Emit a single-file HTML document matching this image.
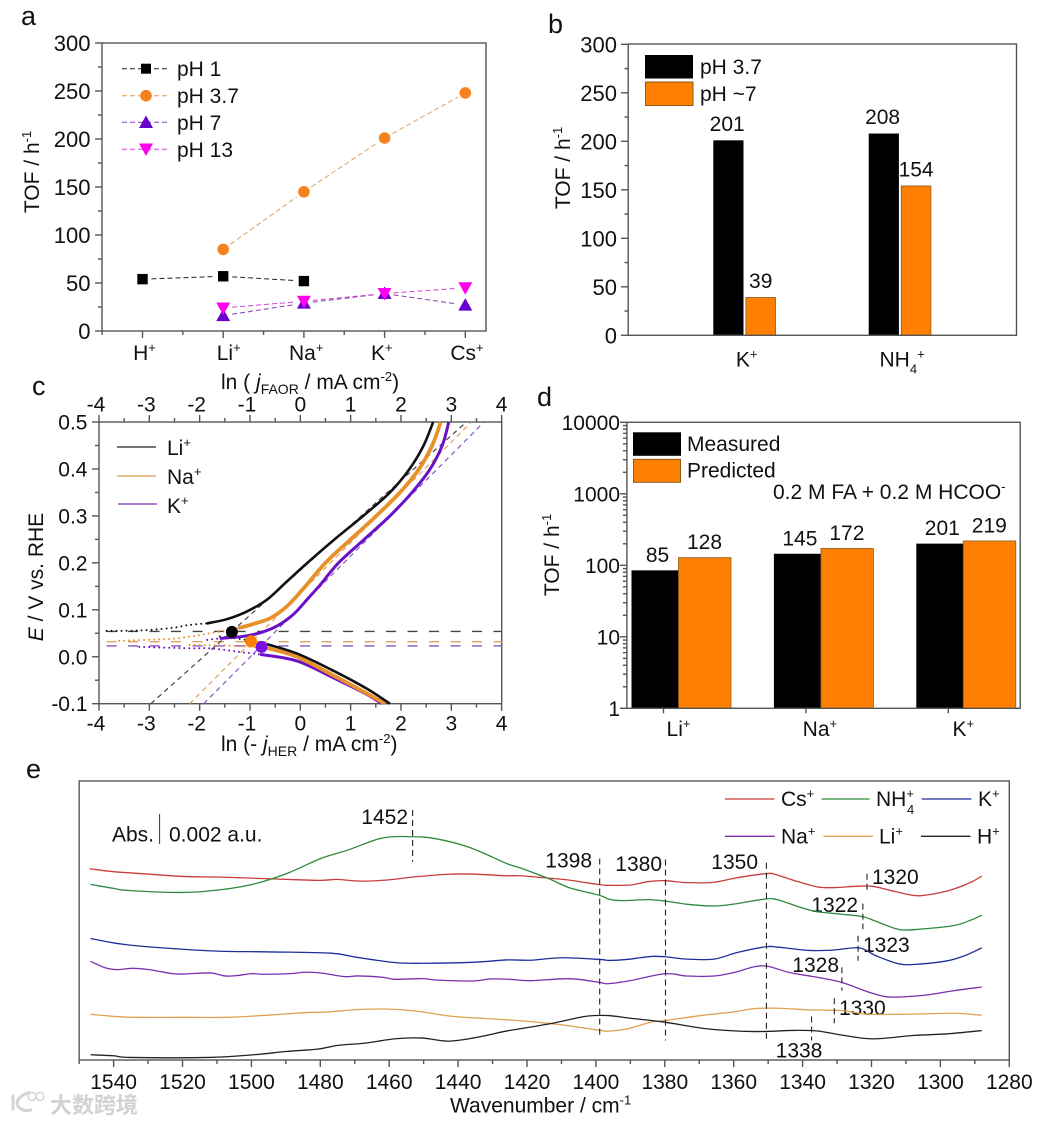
<!DOCTYPE html>
<html lang="en">
<head>
<meta charset="utf-8">
<title>Formic acid oxidation TOF, Tafel and IR spectra figure</title>
<style>
html,body{margin:0;padding:0;background:#fff;}
svg{display:block;font-family:"Liberation Sans","Noto Sans CJK SC",sans-serif;fill:#111;}
text{font-size:21px;}
.letter{font-size:27px;}
</style>
</head>
<body>
<svg id="chart" xmlns="http://www.w3.org/2000/svg" width="1047" height="1123" viewBox="0 0 1047 1123">
  <rect width="1047" height="1123" fill="#fff"/>

  <!-- panel letters -->
  <text class="letter" x="21" y="25">a</text>
  <text class="letter" x="548" y="33">b</text>
  <text class="letter" x="32" y="395">c</text>
  <text class="letter" x="537" y="406">d</text>
  <text class="letter" x="26" y="778">e</text>

  <!-- axis titles -->
  <text transform="translate(39,172) rotate(-90)" text-anchor="middle">TOF / h<tspan font-size="13" dy="-8">-1</tspan></text>
  <text transform="translate(570,168) rotate(-90)" text-anchor="middle">TOF / h<tspan font-size="13" dy="-8">-1</tspan></text>
  <text transform="translate(43,577) rotate(-90)" text-anchor="middle"><tspan font-style="italic">E</tspan> / V vs. RHE</text>
  <text transform="translate(559,555) rotate(-90)" text-anchor="middle">TOF / h<tspan font-size="13" dy="-8">-1</tspan></text>
  <text x="221" y="389">ln ( <tspan font-style="italic">j</tspan><tspan font-size="14" dy="5">FAOR</tspan><tspan dy="-5"> / mA cm</tspan><tspan font-size="13" dy="-8">-2</tspan><tspan dy="8">)</tspan></text>
  <text x="221" y="751">ln (- <tspan font-style="italic">j</tspan><tspan font-size="14" dy="5">HER</tspan><tspan dy="-5"> / mA cm</tspan><tspan font-size="13" dy="-8">-2</tspan><tspan dy="8">)</tspan></text>
  <text x="450" y="1112.5">Wavenumber / cm<tspan font-size="13" dy="-8">-1</tspan></text>

  <!-- panel a legend -->
  <g fill="none" stroke-width="1" stroke-dasharray="5 3">
    <path d="M122 68.7H169" stroke="#222"/>
    <path d="M122 95.7H169" stroke="#e0a060"/>
    <path d="M122 122.3H169" stroke="#8040b0"/>
    <path d="M122 149.3H169" stroke="#d040d0"/>
  </g>
  <rect x="141" y="63.7" width="10" height="10" fill="#000"/>
  <circle cx="146" cy="95.7" r="5.8" fill="#f5821f"/>
  <polygon points="146,115.5 153,128 139,128" fill="#6600cc"/>
  <polygon points="146,156 153,143.5 139,143.5" fill="#ff00ee"/>
  <text x="177" y="76">pH 1</text>
  <text x="177" y="103">pH 3.7</text>
  <text x="177" y="130">pH 7</text>
  <text x="177" y="157">pH 13</text>

  <!-- panel b legend -->
  <rect x="645" y="55" width="48" height="23.5" fill="#000"/>
  <rect x="645.5" y="82" width="47.5" height="23.5" fill="#ff8000" stroke="#8a5a1e"/>
  <text x="700" y="74">pH 3.7</text>
  <text x="700" y="101">pH ~7</text>

  <!-- panel c legend -->
  <path d="M117 447H156" stroke="#222" stroke-width="1.3" fill="none"/>
  <path d="M117 476H156" stroke="#dc9a4c" stroke-width="1.3" fill="none"/>
  <path d="M118 504H157" stroke="#7a30b8" stroke-width="1.3" fill="none"/>
  <text x="167" y="455">Li<tspan font-size="13" dy="-8">+</tspan></text>
  <text x="167" y="484">Na<tspan font-size="13" dy="-8">+</tspan></text>
  <text x="167" y="513">K<tspan font-size="13" dy="-8">+</tspan></text>

  <!-- panel d legend -->
  <rect x="633" y="432.3" width="48" height="23.5" fill="#000"/>
  <rect x="633.5" y="459.3" width="47" height="23" fill="#ff8000" stroke="#8a5a1e"/>
  <text x="687" y="451">Measured</text>
  <text x="687" y="477.5">Predicted</text>
  <text x="773" y="499">0.2 M FA + 0.2 M HCOO<tspan font-size="13" dy="-8">-</tspan></text>

  <!-- panel e static labels -->
  <text x="112" y="841.5">Abs.</text>
  <path d="M159.6 814V844" stroke="#333" stroke-width="1" fill="none"/>
  <text x="169" y="841.5">0.002 a.u.</text>
  <g>
    <text x="408" y="824" text-anchor="end">1452</text>
    <text x="592" y="867.5" text-anchor="end">1398</text>
    <text x="662" y="871" text-anchor="end">1380</text>
    <text x="758" y="869" text-anchor="end">1350</text>
    <text x="872" y="884">1320</text>
    <text x="858" y="912" text-anchor="end">1322</text>
    <text x="863" y="952">1323</text>
    <text x="839" y="972" text-anchor="end">1328</text>
    <text x="839" y="1015">1330</text>
    <text x="799" y="1057.3" text-anchor="middle">1338</text>
  </g>
  <g fill="none" stroke-width="1.3">
    <path d="M725 799H774.5" stroke="#c83c3c"/>
    <path d="M821.5 799H869.6" stroke="#2e8b3e"/>
    <path d="M921.7 799H971.4" stroke="#1c2f9a"/>
    <path d="M725 836.3H774.8" stroke="#7a30b0"/>
    <path d="M823.5 836.3H873" stroke="#e0a050"/>
    <path d="M921 836.3H970.4" stroke="#222"/>
  </g>
  <text x="781" y="806">Cs<tspan font-size="13" dy="-8">+</tspan></text>
  <text x="876" y="806">NH<tspan font-size="13" dy="-8">+</tspan><tspan font-size="13" dx="-7" dy="16">4</tspan></text>
  <text x="978" y="806">K<tspan font-size="13" dy="-8">+</tspan></text>
  <text x="781" y="843.3">Na<tspan font-size="13" dy="-8">+</tspan></text>
  <text x="879" y="843.3">Li<tspan font-size="13" dy="-8">+</tspan></text>
  <text x="977" y="843.3">H<tspan font-size="13" dy="-8">+</tspan></text>

  <!-- watermark -->
  <g transform="translate(0,-3.5)">
    <path d="M13 1098V1114M30 1096C20 1098 17 1104 17 1107C18 1112 24 1116 32 1113" fill="none" stroke="#d4d4d4" stroke-width="3"/>
    <circle cx="32" cy="1100" r="4" fill="none" stroke="#d4d4d4" stroke-width="1.5"/>
    <circle cx="40" cy="1100" r="4" fill="none" stroke="#d4d4d4" stroke-width="1.5"/>
    <text x="50" y="1116.5" style="font-size:22px;font-weight:bold;fill:#d2d2d2;">大数跨境</text>
  </g>
</svg>

<script>
/* ---------- Panel a data ---------- */
const categoriesA = ['H+', 'Li+', 'Na+', 'K+', 'Cs+'];
const ticksA = [0, 50, 100, 150, 200, 250, 300];
const ph1 = [54, 57, 52, null, null];
const ph37 = [null, 85, 145, 201, 248];
const ph7 = [null, 16, 29, 39, 27];
const ph13 = [null, 24, 31, 39, 45];

/* ---------- Panel b data ---------- */
const categoriesB = ['K+', 'NH4+'];
const ticksB = [0, 50, 100, 150, 200, 250, 300];
const phAcid = [201, 208];
const phNeutral = [39, 154];

/* ---------- Panel c data: [ln j, E] pairs ---------- */
const ticksCx = [-4, -3, -2, -1, 0, 1, 2, 3, 4];
const ticksCy = [-0.1, 0, 0.1, 0.2, 0.3, 0.4, 0.5];
const liAnodic = [[-1.86,0.071],[-1.46,0.08],[-1.07,0.096],[-0.67,0.121],[-0.27,0.16],[0.14,0.2],[0.68,0.25],[1.25,0.3],[1.78,0.35],[2.17,0.4],[2.45,0.45],[2.64,0.5]];
const naAnodic = [[-1.23,0.061],[-0.93,0.07],[-0.6,0.082],[-0.27,0.107],[0.06,0.145],[0.5,0.2],[1,0.25],[1.51,0.3],[1.98,0.35],[2.36,0.4],[2.62,0.45],[2.79,0.5]];
const kAnodic = [[-1.6,0.039],[-1.16,0.043],[-0.8,0.051],[-0.47,0.065],[-0.14,0.09],[0.16,0.125],[0.37,0.15],[0.76,0.2],[1.27,0.25],[1.78,0.3],[2.22,0.35],[2.58,0.4],[2.82,0.45],[2.95,0.5]];
const liCathodic = [[-0.67,0.027],[-0.07,0.007],[0.66,-0.03],[1.32,-0.068],[1.78,-0.1]];
const naCathodic = [[-0.67,0.019],[-0.07,0],[0.66,-0.04],[1.32,-0.078],[1.68,-0.1]];
const kCathodic = [[-0.8,0.005],[-0.07,-0.009],[0.66,-0.045],[1.32,-0.08],[1.62,-0.1]];
const liDots = [[-3.85,0.055],[-3.2,0.056],[-2.59,0.061],[-2.19,0.068],[-1.86,0.071]];
const liDotsLower = [[-1.6,0.043],[-1.07,0.036],[-0.67,0.027]];
const naDots = [[-3.6,0.034],[-2.59,0.038],[-2.19,0.043],[-1.79,0.05],[-1.23,0.061]];
const naDotsLower = [[-2.2,0.025],[-1.5,0.024],[-0.67,0.019]];
const kDots = [[-1.85,0.036],[-1.6,0.039]];
const kDotsLower = [[-3.2,0.021],[-2.2,0.018],[-1.79,0.018],[-1.26,0.011],[-0.8,0.005]];
const tafelLi = [[-2.97,-0.1],[3.3,0.5]];
const tafelNa = [[-2.2,-0.1],[3.4,0.5]];
const tafelK = [[-1.92,-0.1],[3.65,0.5]];
const eqPotentials = [0.054, 0.032, 0.023];
const crossX = [-1.36, -0.98, -0.77];
const crossY = [0.053, 0.033, 0.021];

/* ---------- Panel d data ---------- */
const categoriesD = ['Li+', 'Na+', 'K+'];
const ticksD = [1, 10, 100, 1000, 10000];
const measured = [85, 145, 201];
const predicted = [128, 172, 219];

/* ---------- Panel e data: [wavenumber, absorbance in arbitrary units] ---------- */
const ticksE = [1540, 1520, 1500, 1480, 1460, 1440, 1420, 1400, 1380, 1360, 1340, 1320, 1300, 1280];
const specCs = [[1547,194.1],[1540,191.1],[1530,188.7],[1520,186.3],[1510,185.7],[1500,184.6],[1490,183.3],[1480,182.3],[1475,183.3],[1469,181.6],[1461,182.6],[1453,185.7],[1443.5,188.4],[1436,188.7],[1426,187],[1422,187],[1414,184.7],[1408,182.7],[1399,178],[1396,177.3],[1390,177.6],[1385,181],[1380,182],[1373.5,180],[1366,180.3],[1359,185],[1350.7,189.1],[1348,188.4],[1342,181.7],[1336,175.9],[1331.4,174.9],[1324.6,176.3],[1319.7,176.3],[1315,172.6],[1308,167.2],[1304,167.5],[1297,172.6],[1291,180.7],[1288,186.7]];
const specNH4 = [[1546.7,178.3],[1540,174.2],[1535.7,172.1],[1520,170.1],[1509,172.8],[1499.4,178.5],[1489.6,189.4],[1479.8,204.6],[1472,213],[1462,225.2],[1453.3,226.5],[1446.5,224.5],[1436.7,215.7],[1426,199.5],[1422,195],[1413.6,184],[1407.7,174.9],[1399,167.2],[1396,163.1],[1392,161.8],[1385,162.8],[1380,161.4],[1373.5,158.1],[1365.7,156.4],[1359,158.8],[1350.7,163.5],[1347,162.5],[1341,155.4],[1336,150.7],[1329.4,148.3],[1322.6,145.6],[1318.7,140.9],[1311.8,132.5],[1305,133.2],[1296,136.6],[1291,142.3],[1288,147]];
const specK = [[1546.7,123.5],[1540,119],[1533.7,116.3],[1520,112.6],[1509,110.6],[1494.5,109.9],[1476.9,108.6],[1469,104.2],[1458.2,99.1],[1450.4,98.4],[1435.7,99.4],[1426,101.8],[1419,101.5],[1409.7,104],[1399,102.3],[1396,101.3],[1391,102.3],[1384,105.3],[1380,105],[1373.5,102.6],[1365.7,102.6],[1359,109.3],[1350.7,115.1],[1347,114.7],[1338,111.4],[1331.4,111.7],[1323.6,114],[1318.7,106],[1311.8,97.6],[1306,97.6],[1298,100.9],[1293,106],[1288,114]];
const specNa = [[1546.7,100.4],[1542.6,94],[1539,92],[1534.6,93.3],[1529.7,92],[1522.9,87.9],[1519.5,87.6],[1512,88.6],[1507.7,85.6],[1504.3,85.9],[1499.9,87.9],[1496.5,87.3],[1488.6,87.9],[1484.7,89.3],[1479.8,88.6],[1473,84.9],[1469,85.6],[1462,84.3],[1458.2,82.2],[1450.4,82.9],[1446.5,81.5],[1435.7,80.5],[1430.8,82.5],[1425,82.2],[1419,80.8],[1407.7,82.8],[1399,79.1],[1396.5,77.7],[1390,80.8],[1380,87.8],[1373.5,85.5],[1365.7,85.5],[1359.8,89.2],[1354,94.9],[1350,95.3],[1344,89.2],[1337.3,85.1],[1329.4,79.8],[1320.6,69],[1315.8,64.6],[1311.8,64.3],[1304,66.3],[1296,70.7],[1288,74.4]];
const specLi = [[1546.7,46.7],[1540,44.7],[1533.7,43.7],[1520,43.7],[1507.3,43.7],[1494.5,46],[1484.7,48.4],[1477.8,49.1],[1470,51.4],[1461.2,52.1],[1452.4,50.1],[1442.5,45],[1434.7,43],[1427.9,41.6],[1421,40],[1410.7,36.4],[1399,30.7],[1396.5,29.7],[1391,32],[1384,38.8],[1380,40.4],[1369.6,45.5],[1360.8,48.8],[1354,52.5],[1347,52.9],[1338,51.2],[1328.5,50.5],[1320.6,46.8],[1305,47.2],[1296,47.8],[1288,45.8]];
const specH = [[1546.7,5.8],[1540,4.8],[1535.2,3.1],[1512.2,3.1],[1499.4,5.8],[1489.6,9.2],[1480.8,11.5],[1474.9,15.3],[1467,17.6],[1458.2,22],[1450.4,22.7],[1443,19.6],[1435.7,22.7],[1426,29.8],[1422,32.1],[1412.6,37.7],[1402.8,44.8],[1396.5,45.5],[1390,42.8],[1380,38.8],[1367.6,32],[1354,29.3],[1343,30.4],[1336,30],[1328.5,25.7],[1319.7,21.9],[1308,25.3],[1298,27],[1288,30.3]];
const peakWave = [1453.2, 1398.9, 1379.8, 1350.5, 1321.3, 1322.5, 1323.9, 1328.6, 1330.8, 1337.4];
const peakTop = [253.6, 204.5, 203.5, 200.1, 189, 158.8, 126.3, 94.3, 63, 44.5];
const peakBottom = [201.2, 22.6, 20.3, 18.6, 172.5, 132.9, 100.9, 70.7, 37.7, 20.3];

/* ---------- Helpers ---------- */
const NS = 'http://www.w3.org/2000/svg';
const root = document.getElementById('chart');
const AXIS = '#555';

function add(parent, tag, attrs, name) {
  const el = document.createElementNS(NS, tag);
  for (const k in attrs) el.setAttribute(k, attrs[k]);
  
  
  parent.appendChild(el);
  return el;
}
function group(name) { return add(root, 'g', {}, name); }
function seg(g, x1, y1, x2, y2, name) {
  return add(g, 'line', { x1, y1, x2, y2, stroke: AXIS, 'stroke-width': 1.4 }, name);
}
function label(g, x, y, str, anchor, name) {
  const t = add(g, 'text', { x, y, 'text-anchor': anchor }, name);
  t.textContent = str;
  return t;
}
function ionLabel(g, x, y, str, anchor, name) {
  const t = add(g, 'text', { x, y, 'text-anchor': anchor }, name);
  const m = str.match(/^([A-Za-z]+)(\d?)\+$/);
  t.appendChild(document.createTextNode(m[1]));
  let shift = 0;
  if (m[2]) {
    const sub = add(t, 'tspan', { 'font-size': 13, dy: 7 }, 'ion-subscript');
    sub.textContent = m[2];
    shift = 7;
  }
  const sup = add(t, 'tspan', { 'font-size': 13, dy: -8 - shift }, 'ion-superscript');
  sup.textContent = '+';
  return t;
}
function frame(g, l, t, r, b, name) {
  add(g, 'rect', { x: l, y: t, width: r - l, height: b - t, fill: 'none', stroke: AXIS, 'stroke-width': 1.4 }, name);
}
function smoothPath(pts, sx, sy) {
  const p = pts.map(d => [sx(d[0]), sy(d[1])]);
  let s = 'M' + p[0][0].toFixed(2) + ' ' + p[0][1].toFixed(2);
  for (let i = 0; i < p.length - 1; i++) {
    const a = p[Math.max(0, i - 1)], b = p[i], c = p[i + 1], d = p[Math.min(p.length - 1, i + 2)];
    const c1x = b[0] + (c[0] - a[0]) / 6, c1y = b[1] + (c[1] - a[1]) / 6;
    const c2x = c[0] - (d[0] - b[0]) / 6, c2y = c[1] - (d[1] - b[1]) / 6;
    s += 'C' + c1x.toFixed(2) + ' ' + c1y.toFixed(2) + ' ' + c2x.toFixed(2) + ' ' + c2y.toFixed(2) + ' ' + c[0].toFixed(2) + ' ' + c[1].toFixed(2);
  }
  return s;
}

/* ---------- Panel a ---------- */
(function () {
  const g = group('panel-a');
  const x = v => 142.5 + v * 80.7;
  const y = v => 331 - v * 0.96;
  const nudge = [2, 5.5, 2.3, -2.8, 1.7];
  ticksA.forEach(v => {
    seg(g, 95, y(v), 102, y(v), 'y-tick');
    label(g, 90.5, y(v) + 8, String(v), 'end', 'y-tick-label').style.fontSize = '22px';
    if (v < 300) seg(g, 98, y(v + 25), 102, y(v + 25), 'y-minor-tick');
  });
  categoriesA.forEach((c, i) => {
    seg(g, x(i), 331, x(i), 338, 'x-tick');
    seg(g, x(i) - 40.35, 331, x(i) - 40.35, 335, 'x-minor-tick');
    ionLabel(g, x(i) + nudge[i], 360, c, 'middle', 'x-tick-label');
  });
  frame(g, 102, 43, 486, 331, 'panel-a-frame');

  function series(vals, color, name, draw) {
    const s = add(g, 'g', {}, name);
    const pts = vals.map((v, i) => v === null ? null : [x(i), y(v)]);
    for (let i = 0; i < pts.length - 1; i++) {
      if (!pts[i] || !pts[i + 1]) continue;
      const dx = pts[i + 1][0] - pts[i][0], dy = pts[i + 1][1] - pts[i][1], len = Math.hypot(dx, dy), k = 9 / len;
      add(s, 'line', {
        x1: pts[i][0] + dx * k, y1: pts[i][1] + dy * k, x2: pts[i + 1][0] - dx * k, y2: pts[i + 1][1] - dy * k,
        stroke: color, 'stroke-width': 1, 'stroke-dasharray': '5 3'
      }, name + '-line');
    }
    pts.forEach(p => { if (p) draw(s, p[0], p[1]); });
  }
  series(ph1, '#222', 'series-ph-1', (s, a, b) => add(s, 'rect', { x: a - 5.2, y: b - 5.2, width: 10.4, height: 10.4, fill: '#000' }, 'point-ph-1'));
  series(ph37, '#e0a060', 'series-ph-3-7', (s, a, b) => add(s, 'circle', { cx: a, cy: b, r: 5.8, fill: '#f5821f' }, 'point-ph-3-7'));
  series(ph7, '#8040b0', 'series-ph-7', (s, a, b) => add(s, 'polygon', { points: `${a},${b - 7} ${a + 7},${b + 5.5} ${a - 7},${b + 5.5}`, fill: '#6600cc' }, 'point-ph-7'));
  series(ph13, '#d040d0', 'series-ph-13', (s, a, b) => add(s, 'polygon', { points: `${a},${b + 7} ${a + 7},${b - 5.5} ${a - 7},${b - 5.5}`, fill: '#ff00ee' }, 'point-ph-13'));
})();

/* ---------- Panel b ---------- */
(function () {
  const g = group('panel-b');
  const base = 335.3;
  const y = v => base - v * 0.97;
  const cx = i => 744.7 + i * 155.4;
  ticksB.forEach(v => {
    seg(g, 621, y(v), 628.2, y(v), 'y-tick');
    label(g, 617, y(v) + 8, String(v), 'end', 'y-tick-label').style.fontSize = '22px';
    if (v < 300) seg(g, 624.5, y(v + 25), 628.2, y(v + 25), 'y-minor-tick');
  });
  categoriesB.forEach((c, i) => {
    add(g, 'rect', { x: cx(i) - 31.4, y: y(phAcid[i]), width: 30.2, height: base - y(phAcid[i]), fill: '#000' }, 'bar-ph-3-7-' + i);
    add(g, 'rect', { x: cx(i) + 1.2, y: y(phNeutral[i]), width: 29.6, height: base - y(phNeutral[i]), fill: '#ff8000', stroke: '#8a5a1e', 'stroke-width': 0.8 }, 'bar-ph-7-' + i);
    label(g, cx(i) - 17.5, y(phAcid[i]) - 9.5, String(phAcid[i]), 'middle', 'bar-value-ph-3-7');
    label(g, cx(i) + 16, y(phNeutral[i]) - 9.5, String(phNeutral[i]), 'middle', 'bar-value-ph-7');
    ionLabel(g, cx(i) + 2, 366.7, c, 'middle', 'x-tick-label');
  });
  frame(g, 628.2, 44, 1016.5, base, 'panel-b-frame');
})();

/* ---------- Panel c ---------- */
(function () {
  const g = group('panel-c');
  const x = v => 99 + (v + 4) * 50.33;
  const y = v => 422 + (0.5 - v) * 469.5;
  const b = y(-0.1), t = y(0.5);
  ticksCx.forEach((v, i) => {
    seg(g, x(v), b, x(v), b + 7, 'bottom-tick');
    seg(g, x(v), t, x(v), t - 7, 'top-tick');
    label(g, x(v) - (v < 0 ? 3 : 0), 730.5, String(v), 'middle', 'bottom-tick-label');
    label(g, x(v) - (v < 0 ? 3 : 0), 411.5, String(v), 'middle', 'top-tick-label');
    if (i < ticksCx.length - 1) {
      seg(g, x(v + 0.5), b, x(v + 0.5), b + 4, 'bottom-minor-tick');
      seg(g, x(v + 0.5), t, x(v + 0.5), t - 4, 'top-minor-tick');
    }
  });
  ticksCy.forEach((v, i) => {
    seg(g, 92, y(v), 99, y(v), 'y-tick');
    label(g, 87.5, y(v) + 7.5, v.toFixed(1), 'end', 'y-tick-label');
    if (i < ticksCy.length - 1) seg(g, 95, y(v + 0.05), 99, y(v + 0.05), 'y-minor-tick');
  });
  frame(g, 99, t, 501.7, b, 'panel-c-frame');

  const colors = ['#111', '#e8902a', '#6a10c8'];
  const widths = [2.6, 3.8, 3];
  const dashColors = ['#444', '#e0a060', '#8a55c0'];
  const names = ['li', 'na', 'k'];
  eqPotentials.forEach((e, i) => {
    add(g, 'line', { x1: x(-3.85), y1: y(e), x2: 501.7, y2: y(e), stroke: dashColors[i], 'stroke-width': 1.4, 'stroke-dasharray': '10 11.5' }, 'equilibrium-line-' + names[i]);
  });
  [tafelLi, tafelNa, tafelK].forEach((d, i) => {
    add(g, 'line', { x1: x(d[0][0]), y1: y(d[0][1]), x2: x(d[1][0]), y2: y(d[1][1]), stroke: dashColors[i], 'stroke-width': 1.2, 'stroke-dasharray': '5 4' }, 'tafel-line-' + names[i]);
  });
  [[kDots, kDotsLower], [naDots, naDotsLower], [liDots, liDotsLower]].forEach((pair, j) => {
    const i = 2 - j;
    pair.forEach(d => {
      add(g, 'path', { d: smoothPath(d, x, y), fill: 'none', stroke: colors[i], 'stroke-width': 2, 'stroke-linecap': 'round', 'stroke-dasharray': '0 5' }, 'dotted-curve-' + names[i]);
    });
  });
  [[kCathodic, 2], [naCathodic, 1], [liCathodic, 0], [kAnodic, 2], [naAnodic, 1], [liAnodic, 0]].forEach(c => {
    add(g, 'path', { d: smoothPath(c[0], x, y), fill: 'none', stroke: colors[c[1]], 'stroke-width': widths[c[1]], 'stroke-linecap': 'butt' }, 'polarization-curve-' + names[c[1]]);
  });
  crossX.forEach((v, i) => {
    add(g, 'circle', { cx: x(v), cy: y(crossY[i]), r: 6, fill: i === 1 ? '#ff8000' : (i === 2 ? '#7a10e0' : '#000') }, 'crossing-point-' + names[i]);
  });
})();

/* ---------- Panel d ---------- */
(function () {
  const g = group('panel-d');
  const left = 626.9, right = 1020.2, top = 422.3, bottom = 708.3;
  const y = v => bottom - Math.log10(v) * 71.5;
  const cx = i => 663.5 + i * 142.4;
  ticksD.forEach((v, i) => {
    seg(g, left - 7, y(v), left, y(v), 'y-tick');
    label(g, 620, y(v) + 7.5, String(v), 'end', 'y-tick-label');
    if (i < ticksD.length - 1) {
      for (let m = 2; m < 10; m++) seg(g, left - 4, y(v * m), left, y(v * m), 'y-minor-tick');
    }
  });
  categoriesD.forEach((c, i) => {
    seg(g, cx(i), bottom, cx(i), bottom + 5, 'x-tick');
    const m = cx(i) + 15;
    add(g, 'rect', { x: m - 47, y: y(measured[i]), width: 47, height: bottom - y(measured[i]), fill: '#000' }, 'bar-measured-' + i);
    add(g, 'rect', { x: m, y: y(predicted[i]), width: 52.5, height: bottom - y(predicted[i]), fill: '#ff8000', stroke: '#8a5a1e', 'stroke-width': 0.8 }, 'bar-predicted-' + i);
    label(g, m - 21, y(measured[i]) - 8.5, String(measured[i]), 'middle', 'bar-value-measured');
    label(g, m + 26, y(predicted[i]) - 8.5, String(predicted[i]), 'middle', 'bar-value-predicted');
    ionLabel(g, cx(i) + 15 - (i === 1 ? 1 : 0), 736, c, 'middle', 'x-tick-label');
  });
  frame(g, left, top, right, bottom, 'panel-d-frame');
})();

/* ---------- Panel e ---------- */
(function () {
  const g = group('panel-e');
  const x = v => 113.6 + (1540 - v) * 3.445;
  const y = v => 1060.5 - v * 0.988;
  const left = x(1550), right = x(1280), top = 781, bottom = 1060;
  ticksE.forEach(v => {
    seg(g, x(v), bottom, x(v), bottom + 7, 'x-tick');
    seg(g, x(v + 10), bottom, x(v + 10), bottom + 4, 'x-minor-tick');
    label(g, x(v), 1089, String(v), 'middle', 'x-tick-label');
  });
  frame(g, left, top, right, bottom, 'panel-e-frame');
  const specs = [[specCs, '#c83c3c', 'cs'], [specNH4, '#2e8b3e', 'nh4'], [specK, '#1c2f9a', 'k'], [specNa, '#7a30b0', 'na'], [specLi, '#e0a050', 'li'], [specH, '#222', 'h']];
  specs.forEach(s => {
    add(g, 'path', { d: smoothPath(s[0], x, y), fill: 'none', stroke: s[1], 'stroke-width': 1.3 }, 'spectrum-' + s[2]);
  });
  peakWave.forEach((w, i) => {
    add(g, 'line', { x1: x(w), y1: y(peakTop[i]), x2: x(w), y2: y(peakBottom[i]), stroke: '#222', 'stroke-width': 1.1, 'stroke-dasharray': '6 4' }, 'peak-marker-line');
  });
})();
</script>
</body>
</html>
